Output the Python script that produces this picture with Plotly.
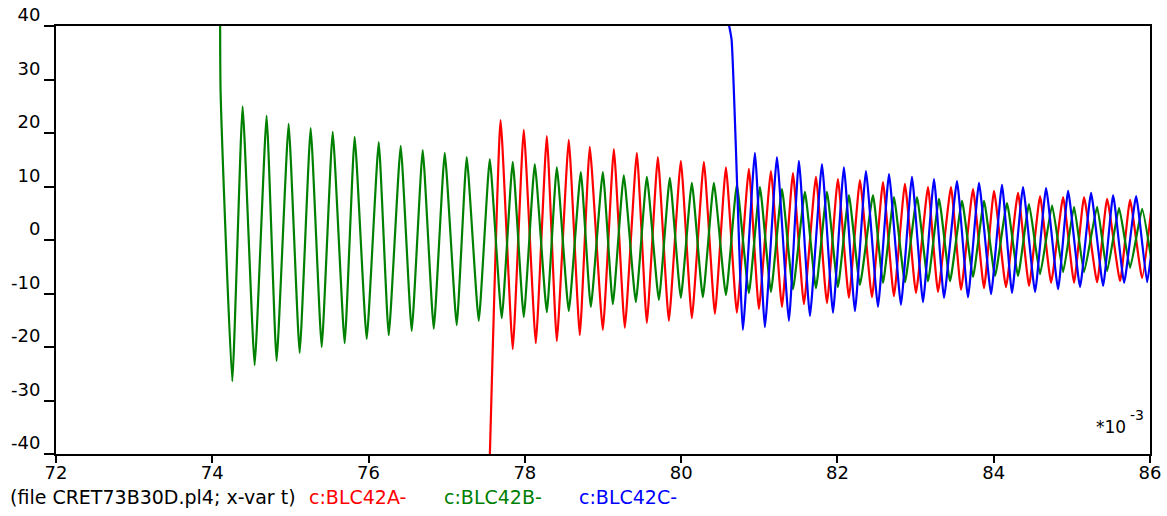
import plotly.graph_objects as go

# --- data (time in ms *10^-3 scale units, current values) ---
green_t = [74.100, 74.106, 74.256, 74.388, 74.542, 74.695, 74.823, 74.977, 75.118, 75.259,
           75.400, 75.541, 75.694, 75.822, 75.976, 76.130, 76.258, 76.411, 76.552, 76.693,
           76.834, 76.975, 77.128, 77.256, 77.410, 77.551, 77.704, 77.845, 77.986, 78.127,
           78.281, 78.409, 78.562, 78.716, 78.844, 78.998, 79.126, 79.266, 79.420, 79.561,
           79.715, 79.855, 79.996, 80.137, 80.278, 80.419, 80.573, 80.713, 80.867, 81.008,
           81.149, 81.290, 81.431, 81.584, 81.725, 81.866, 82.006, 82.147, 82.288, 82.455,
           82.583, 82.723, 82.864, 83.018, 83.159, 83.300, 83.441, 83.594, 83.735, 83.876,
           84.017, 84.170, 84.311, 84.452, 84.593, 84.747, 84.888, 85.028, 85.156, 85.323,
           85.451, 85.604, 85.745, 85.899, 86.014]
green_v = [70.0, 28.0, -26.4, 25.0, -23.4, 23.2, -22.6, 21.7, -21.1, 20.9,
           -20.0, 20.2, -19.3, 19.3, -18.5, 18.3, -17.8, 17.6, -17.0, 16.8,
           -16.6, 16.3, -15.9, 15.5, -15.1, 15.1, -14.6, 14.6, -14.4, 14.2,
           -13.5, 13.6, -13.3, 12.7, -12.5, 12.7, -12.0, 12.1, -11.6, 11.8,
           -11.2, 11.6, -10.8, 10.7, -10.7, 10.7, -10.3, 10.3, -9.9, 9.9,
           -9.7, 9.5, -9.2, 9.0, -9.0, 9.0, -8.8, 8.4, -8.4, 8.4,
           -8.0, 8.0, -7.9, 8.0, -7.7, 7.7, -7.7, 7.3, -6.9, 7.3,
           -6.7, 6.9, -6.7, 6.7, -6.4, 6.5, -6.0, 6.2, -6.0, 6.2,
           -5.8, 6.0, -5.2, 5.8, -3.4]

red_t = [77.536, 77.690, 77.845, 77.986, 78.140, 78.281, 78.409, 78.562, 78.703, 78.831,
         78.998, 79.139, 79.279, 79.433, 79.561, 79.702, 79.843, 79.996, 80.137, 80.291,
         80.432, 80.573, 80.713, 80.867, 80.995, 81.149, 81.290, 81.431, 81.571, 81.725,
         81.866, 82.006, 82.147, 82.288, 82.442, 82.583, 82.723, 82.864, 83.005, 83.159,
         83.287, 83.453, 83.582, 83.735, 83.876, 84.004, 84.157, 84.311, 84.452, 84.593,
         84.734, 84.888, 85.028, 85.156, 85.323, 85.451, 85.617, 85.745, 85.899, 86.027]
red_v = [-49.0, 22.4, -20.4, 20.6, -19.3, 19.4, -18.9, 18.7, -17.8, 17.4,
         -16.8, 17.0, -16.4, 16.3, -15.5, 15.5, -15.1, 14.8, -14.6, 14.6,
         -13.8, 13.6, -13.6, 13.3, -12.9, 12.9, -12.5, 12.5, -12.0, 11.8,
         -11.8, 11.4, -10.8, 11.2, -10.7, 10.8, -10.5, 10.5, -9.9, 9.9,
         -9.7, 9.9, -9.3, 9.5, -9.0, 9.2, -8.8, 8.8, -8.6, 8.2,
         -8.0, 8.0, -8.0, 8.0, -7.9, 7.7, -7.7, 7.5, -7.1, 7.1]

blue_t = [80.572, 80.645, 80.790, 80.944, 81.072, 81.226, 81.379, 81.507, 81.648, 81.802,
          81.943, 82.083, 82.224, 82.365, 82.519, 82.660, 82.813, 82.954, 83.095, 83.236,
          83.364, 83.530, 83.671, 83.812, 83.966, 84.106, 84.234, 84.375, 84.529, 84.670,
          84.824, 84.952, 85.105, 85.246, 85.400, 85.528, 85.669, 85.822, 85.963, 86.014]
blue_v = [43.0, 37.5, -16.8, 16.3, -16.3, 15.5, -15.1, 14.8, -14.2, 14.2,
          -13.6, 13.6, -13.3, 12.9, -12.5, 12.3, -12.1, 11.8, -11.6, 11.4,
          -10.8, 11.0, -10.7, 10.7, -10.1, 10.3, -9.9, 9.9, -9.7, 9.7,
          -9.2, 9.2, -8.8, 8.8, -8.6, 8.4, -8.0, 8.2, -7.9, -2.8]

x_ticks = [72, 74, 76, 78, 80, 82, 84, 86]
y_ticks = [-40, -30, -20, -10, 0, 10, 20, 30, 40]

series = [
    ("c:BLC42A-", red_t, red_v, "#ff0000"),
    ("c:BLC42B-", green_t, green_v, "#008000"),
    ("c:BLC42C-", blue_t, blue_v, "#0000ff"),
]

fig = go.Figure()
for name, t, v, col in series:
    fig.add_trace(go.Scatter(x=t, y=v, mode="lines", name=name,
                             line=dict(color=col, width=2.2, shape="spline", smoothing=0.4)))

font_main = "DejaVu Sans"
fig.update_layout(
    width=1167, height=516,
    margin=dict(l=56, r=17, t=26, b=62, autoexpand=False),
    paper_bgcolor="white", plot_bgcolor="white",
    showlegend=False,
    font=dict(family=font_main, size=18, color="black"),
)
fig.update_xaxes(range=[72, 86], tickvals=x_ticks, ticktext=[str(v) for v in x_ticks],
                 showgrid=False, zeroline=False, showline=True, linecolor="black",
                 linewidth=2, mirror=True, ticks="outside", ticklen=7, tickwidth=2,
                 tickcolor="black", tickfont=dict(family=font_main, size=18),
                 ticklabelstandoff=-6, automargin=False)
fig.update_yaxes(range=[-40, 40], tickvals=y_ticks, ticktext=[str(v) for v in y_ticks],
                 showgrid=False, zeroline=False, showline=True, linecolor="black",
                 linewidth=2, mirror=True, ticks="outside", ticklen=10, tickwidth=2,
                 tickcolor="black", tickfont=dict(family=font_main, size=18),
                 ticklabelshift=-11, automargin=False)

# exponent note "*10^-3"
fig.add_annotation(text="*10", xref="paper", yref="paper",
                   x=0.9795, y=0.063, xanchor="right", yanchor="middle",
                   showarrow=False, font=dict(family=font_main, size=17, color="black"))
fig.add_annotation(text="-3", xref="paper", yref="paper",
                   x=0.9800, y=0.090, xanchor="left", yanchor="middle",
                   showarrow=False, font=dict(family=font_main, size=14, color="black"))

# footer legend line
fig.add_annotation(text="(file CRET73B30D.pl4; x-var t)", xref="paper", yref="paper",
                   x=-0.0439, y=-0.1005, xanchor="left", yanchor="middle",
                   showarrow=False, font=dict(family=font_main, size=19, color="black"))
leg_x = [0.2294, 0.3528, 0.4762]
for (name, _, _, col), lx in zip(series, leg_x):
    fig.add_annotation(text=name, xref="paper", yref="paper",
                       x=lx, y=-0.1005, xanchor="left", yanchor="middle",
                       showarrow=False, font=dict(family=font_main, size=19, color=col))

fig.write_html("out.html")
